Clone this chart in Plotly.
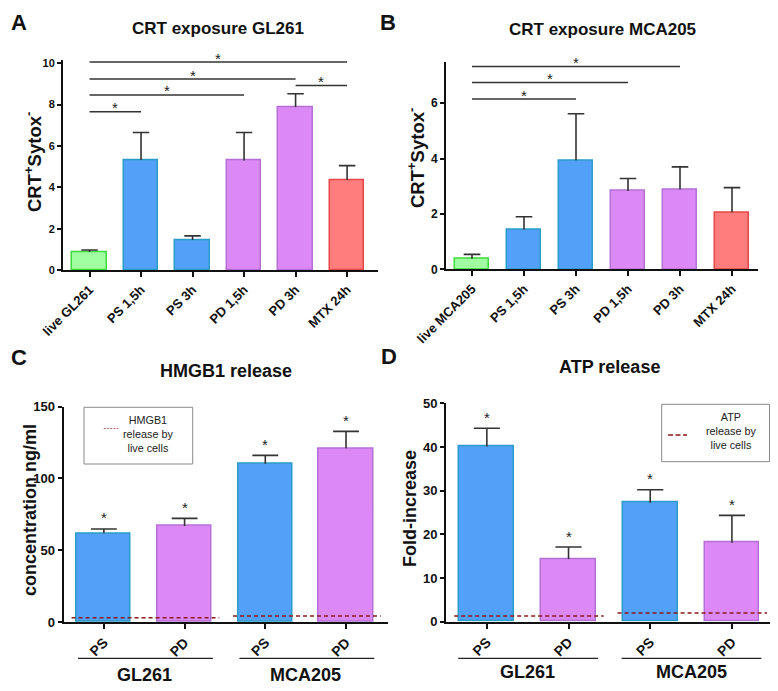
import plotly.graph_objects as go

FONT = "Arial, Liberation Sans, sans-serif"

# ---------------- data ----------------
crt_gl_cats = ["live GL261", "PS 1,5h", "PS 3h", "PD 1,5h", "PD 3h", "MTX 24h"]
crt_gl_mean = [0.87, 5.32, 1.45, 5.30, 7.88, 4.35]
crt_gl_err = [0.10, 1.33, 0.20, 1.35, 0.65, 0.70]
crt_gl_sig = [(0, 1, 7.66), (0, 3, 8.47), (0, 4, 9.24), (0, 5, 10.06), (4, 5, 8.92)]

crt_mca_cats = ["live MCA205", "PS 1,5h", "PS 3h", "PD 1,5h", "PD 3h", "MTX 24h"]
crt_mca_mean = [0.38, 1.44, 3.94, 2.83, 2.88, 2.06]
crt_mca_err = [0.16, 0.46, 1.68, 0.45, 0.82, 0.89]
crt_mca_sig = [(0, 2, 6.15), (0, 3, 6.75), (0, 4, 7.33)]

release_cats = ["PS", "PD", "PS", "PD"]
cell_lines = ["GL261", "MCA205"]
hmgb1_mean = [61.8, 66.9, 110.3, 121.0]
hmgb1_err = [3.0, 5.3, 5.8, 11.8]
hmgb1_live = [3.0, 4.2]
atp_mean = [40.1, 14.35, 27.25, 18.1]
atp_err = [4.2, 2.75, 2.95, 6.25]
atp_live = [1.3, 2.0]

# ---------------- styles ----------------
FILL = {"live": "#A0FFA0", "PS": "#52A0F8", "PD": "#DC88F5", "MTX": "#FF7D7D"}
EDGE = {"live": "#3CDC3C", "PS": "#2A9CC8", "PD": "#B570D5", "MTX": "#E44848"}
CAP = 0.16  # half cap width in category units

# page has an 8px body margin: lay the figure out in screen pixels and offset
OFF = 8
W, H = 778 - OFF, 691 - OFF


def kind(cat):
    for k in ("live", "PS", "PD", "MTX"):
        if cat.startswith(k):
            return k
    return "PS"


def px(x):
    return (x - OFF) / W


def py(y):
    return 1 - (y - OFF) / H


fig = go.Figure()
annotations = []
shapes = []


def add_bars(cats, mean, err, xa, ya):
    idx = list(range(len(cats)))
    fig.add_trace(go.Bar(
        x=idx, y=mean, width=0.67,
        marker=dict(color=[FILL[kind(c)] for c in cats],
                    line=dict(color=[EDGE[kind(c)] for c in cats], width=1.5)),
        xaxis=xa, yaxis=ya, showlegend=False, hoverinfo="skip"))
    ex, ey = [], []
    for i, (m, e) in enumerate(zip(mean, err)):
        ex += [i, i, None, i - CAP, i + CAP, None]
        ey += [m, m + e, None, m + e, m + e, None]
    fig.add_trace(go.Scatter(x=ex, y=ey, mode="lines",
                             line=dict(color="#333333", width=1.6),
                             xaxis=xa, yaxis=ya, showlegend=False, hoverinfo="skip"))


def add_sig(sig, xa, ya):
    for i, j, h in sig:
        fig.add_trace(go.Scatter(x=[i, j], y=[h, h], mode="lines",
                                 line=dict(color="#333333", width=1.5),
                                 xaxis=xa, yaxis=ya, showlegend=False, hoverinfo="skip"))
        annotations.append(dict(x=(i + j) / 2, y=h, xref=xa, yref=ya, text="*",
                                showarrow=False, yanchor="middle", yshift=4,
                                font=dict(family=FONT, size=15, color="#222")))


def add_live(live, xa, ya):
    for g, v in enumerate(live):
        fig.add_trace(go.Scatter(x=[2 * g - 0.4, 2 * g + 1.43], y=[v, v], mode="lines",
                                 line=dict(color="#8B1A1A", width=1.6, dash="4px,3px"),
                                 xaxis=xa, yaxis=ya, showlegend=False, hoverinfo="skip"))


def add_stars(mean, err, xa, ya):
    for i, (m, e) in enumerate(zip(mean, err)):
        annotations.append(dict(x=i, y=m + e, xref=xa, yref=ya, text="*",
                                showarrow=False, yanchor="middle", yshift=11,
                                font=dict(family=FONT, size=15, color="#222")))


add_bars(crt_gl_cats, crt_gl_mean, crt_gl_err, "x", "y")
add_sig(crt_gl_sig, "x", "y")
add_bars(crt_mca_cats, crt_mca_mean, crt_mca_err, "x2", "y2")
add_sig(crt_mca_sig, "x2", "y2")
add_bars(release_cats, hmgb1_mean, hmgb1_err, "x3", "y3")
add_live(hmgb1_live, "x3", "y3")
add_stars(hmgb1_mean, hmgb1_err, "x3", "y3")
add_bars(release_cats, atp_mean, atp_err, "x4", "y4")
add_live(atp_live, "x4", "y4")
add_stars(atp_mean, atp_err, "x4", "y4")


def xax(domain, rng, cats, anchor, fs):
    return dict(domain=domain, range=rng, anchor=anchor, showline=True, linecolor="#111",
                linewidth=2, ticks="outside", ticklen=5, tickwidth=1.5, tickcolor="#111",
                tickvals=list(range(len(cats))), ticktext=cats, tickangle=-45,
                tickfont=dict(family=FONT, size=fs, color="#111", weight="bold"),
                showgrid=False, zeroline=False, fixedrange=True, automargin=False)


def yax(domain, rng, dtick, anchor, fs):
    return dict(domain=domain, range=rng, anchor=anchor, showline=True, linecolor="#111",
                linewidth=2, ticks="outside", ticklen=4, tickwidth=1.5, tickcolor="#111",
                dtick=dtick, tick0=0,
                tickfont=dict(family=FONT, size=fs, color="#111", weight="bold"),
                showgrid=False, zeroline=False, fixedrange=True, automargin=False)


layout = dict(
    width=W, height=H, margin=dict(l=0, r=0, t=0, b=0, pad=0, autoexpand=False),
    plot_bgcolor="white", paper_bgcolor="white", bargap=0,
    xaxis=xax([px(63), px(378)], [-0.515, 5.6], crt_gl_cats, "y", 13),
    yaxis=yax([py(270), py(60.2)], [0, 10.15], 2, "x", 11),
    xaxis2=xax([px(446), px(758)], [-0.5, 5.5], crt_mca_cats, "y2", 13),
    yaxis2=yax([py(269.3), py(61.7)], [0, 7.5], 2, "x2", 12),
    xaxis3=xax([px(63.5), px(388)], [-0.5, 3.52], release_cats, "y3", 14),
    yaxis3=yax([py(622), py(406.7)], [0, 150], 50, "x3", 13),
    xaxis4=xax([px(446), px(770)], [-0.5, 3.466], release_cats, "y4", 14),
    yaxis4=yax([py(621.7), py(403.3)], [0, 50], 10, "x4", 13),
)


def ptext(x, y, text, size, bold=True, angle=0, color="#111", yanchor="middle"):
    annotations.append(dict(x=px(x), y=py(y), xref="paper", yref="paper", text=text,
                            showarrow=False, xanchor="center", yanchor=yanchor,
                            textangle=angle,
                            font=dict(family=FONT, size=size, color=color,
                                      weight="bold" if bold else "normal")))


ptext(19, OFF + 0.5, "A", 22, yanchor="top")
ptext(388, OFF + 0.5, "B", 22, yanchor="top")
ptext(19, 357, "C", 22)
ptext(389, 356, "D", 22)
ptext(218, 28, "CRT exposure GL261", 17)
ptext(602, 29, "CRT exposure MCA205", 17)
ptext(226, 371, "HMGB1 release", 18)
ptext(609, 367, "ATP release", 18)
ptext(33, 162, "CRT<sup>+</sup>Sytox<sup>-</sup>", 18.5, angle=-90)
ptext(416, 158, "CRT<sup>+</sup>Sytox<sup>-</sup>", 18.5, angle=-90)
ptext(30, 510, "concentration ng/ml", 18, angle=-90)
ptext(410, 508, "Fold-increase", 18, angle=-90)

for xa, y_lab, spans in (("x3", 675, (-0.32, 1.35)), ("x4", 672, (-0.35, 1.36))):
    for g, name in enumerate(cell_lines):
        shapes.append(dict(type="line", xref=xa, yref="paper",
                           x0=2 * g + spans[0], x1=2 * g + spans[1], y0=py(658.3), y1=py(658.3),
                           line=dict(color="#222", width=1.2)))
        annotations.append(dict(x=2 * g + 0.5, y=py(y_lab), xref=xa, yref="paper", text=name,
                                showarrow=False, xanchor="center", yanchor="middle",
                                font=dict(family=FONT, size=18, color="#111", weight="bold")))

legend_c = ["HMGB1", "release by", "live cells"]
legend_d = ["ATP", "release by", "live cells"]
shapes.append(dict(type="rect", xref="paper", yref="paper", x0=px(84), x1=px(192.7),
                   y0=py(464), y1=py(407.3), line=dict(color="#8a8a8a", width=1)))
shapes.append(dict(type="line", xref="paper", yref="paper", x0=px(103.7), x1=px(118.3),
                   y0=py(428.5), y1=py(428.5), line=dict(color="#C46A6A", width=1.2, dash="2px,1.2px")))
ptext(147.5, 434, "<br>".join(legend_c), 10.8, bold=False, color="#222")

shapes.append(dict(type="rect", xref="paper", yref="paper", x0=px(661.7), x1=px(769.5),
                   y0=py(461.7), y1=py(404.3), line=dict(color="#8a8a8a", width=1)))
shapes.append(dict(type="line", xref="paper", yref="paper", x0=px(668), x1=px(687),
                   y0=py(435), y1=py(435), line=dict(color="#8B1A1A", width=1.3, dash="5px,2.5px")))
ptext(730.5, 431, "<br>".join(legend_d), 10.8, bold=False, color="#222")

layout["annotations"] = annotations
layout["shapes"] = shapes
fig.update_layout(**layout)
fig.write_html("out.html")
